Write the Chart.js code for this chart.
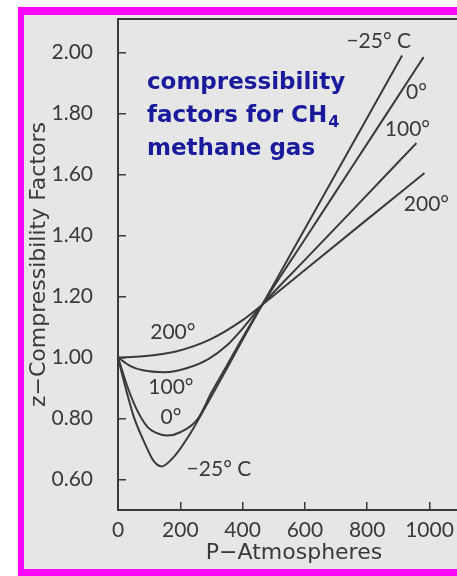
<!DOCTYPE html>
<html>
<head>
<meta charset="utf-8">
<script src="https://cdn.jsdelivr.net/npm/chart.js@4.4.1/dist/chart.umd.min.js"></script>
<style>
  html, body { margin: 0; padding: 0; background: #fff; overflow: hidden; }
  #frame {
    position: absolute; left: 18px; top: 7px; width: 520px; height: 569px; box-sizing: border-box;
    border-left: 6px solid #f0f; border-top: 8px solid #f0f; border-bottom: 7px solid #f0f;
    background: #e6e6e6;
  }
  #chart { position: absolute; left: 24px; top: 15px; }
</style>
</head>
<body>
<div id="frame"></div>
<canvas id="chart" width="460" height="554"></canvas>
<script>
// P (atm) and z, one pair of arrays per temperature
const pM25 = [0, 20, 50, 85, 115, 140, 180, 235, 290, 350, 400, 463, 550, 650, 750, 850, 912];
const zM25 = [1.00, 0.918, 0.808, 0.721, 0.66, 0.643, 0.675, 0.756, 0.855, 0.965, 1.058, 1.173, 1.331, 1.513, 1.695, 1.877, 1.99];

const p0 = [0, 30, 60, 95, 125, 158, 200, 255, 300, 350, 400, 463, 600, 750, 900, 981];
const z0 = [1.00, 0.905, 0.83, 0.772, 0.752, 0.744, 0.755, 0.797, 0.885, 0.975, 1.065, 1.173, 1.388, 1.623, 1.858, 1.985];

const p100 = [0, 40, 80, 150, 220, 290, 350, 400, 463, 600, 750, 958];
const z100 = [1.00, 0.972, 0.958, 0.952, 0.965, 0.995, 1.04, 1.095, 1.173, 1.32, 1.48, 1.703];

const p200 = [0, 80, 186, 293, 399, 463, 600, 800, 984];
const z200 = [1.00, 1.004, 1.02, 1.058, 1.122, 1.173, 1.287, 1.453, 1.605];

const xTicks = [0, 200, 400, 600, 800, 1000];
const yTicks = [0.6, 0.8, 1.0, 1.2, 1.4, 1.6, 1.8, 2.0];

// curve labels: [text, P, z]
const curveLabels = [
  ['\u221225\u00b0 C', 837, 2.036],
  ['0\u00b0', 958, 1.869],
  ['100\u00b0', 929, 1.748],
  ['200\u00b0', 990, 1.503],
  ['200\u00b0', 176, 1.084],
  ['100\u00b0', 170, 0.901],
  ['0\u00b0', 170, 0.803],
  ['\u221225\u00b0 C', 324, 0.633]
];

const ink = '#3a3a3a';
const tickFont = { family: 'Lato', size: 21 };
const titleFont = { family: 'DejaVu Sans', size: 22 };

function pts(px, pz) {
  return px.map((p, i) => ({ x: p, y: pz[i] }));
}

function curve(label, px, pz) {
  return {
    label: label,
    data: pts(px, pz),
    borderColor: ink,
    borderWidth: 2,
    pointRadius: 0,
    fill: false,
    cubicInterpolationMode: 'monotone'
  };
}

const decorations = {
  id: 'decorations',
  afterDraw(chart) {
    const { ctx, chartArea, scales } = chart;
    const x = scales.x, y = scales.y;
    ctx.save();
    // top border of the plot box
    ctx.strokeStyle = ink;
    ctx.lineWidth = 2;
    ctx.beginPath();
    ctx.moveTo(chartArea.left, chartArea.top);
    ctx.lineTo(chart.width, chartArea.top);
    ctx.stroke();

    // labels on the curves
    ctx.fillStyle = ink;
    ctx.font = '21px Lato';
    ctx.textAlign = 'center';
    ctx.textBaseline = 'middle';
    curveLabels.forEach(([t, p, z]) => {
      ctx.fillText(t, x.getPixelForValue(p), y.getPixelForValue(z));
    });

    // blue note
    ctx.fillStyle = '#1a1a9c';
    ctx.textAlign = 'left';
    ctx.textBaseline = 'alphabetic';
    ctx.font = 'bold 23px "DejaVu Sans"';
    const lx = x.getPixelForValue(93);
    ctx.fillText('compressibility', lx, y.getPixelForValue(1.882));
    const y2 = y.getPixelForValue(1.771);
    ctx.fillText('factors for CH', lx, y2);
    const w = ctx.measureText('factors for CH').width;
    ctx.font = 'bold 16px "DejaVu Sans"';
    ctx.fillText('4', lx + w + 1, y2 + 5);
    ctx.font = 'bold 23px "DejaVu Sans"';
    ctx.fillText('methane gas', lx, y.getPixelForValue(1.663));
    ctx.restore();
  }
};

const ctx = document.getElementById('chart').getContext('2d');
new Chart(ctx, {
  type: 'line',
  data: {
    datasets: [
      curve('-25 C', pM25, zM25),
      curve('0 C', p0, z0),
      curve('100 C', p100, z100),
      curve('200 C', p200, z200)
    ]
  },
  options: {
    responsive: false,
    devicePixelRatio: 1,
    animation: false,
    layout: { padding: { top: 4, right: 14, left: 0, bottom: 0 } },
    plugins: { legend: { display: false }, tooltip: { enabled: false } },
    scales: {
      x: {
        type: 'linear',
        position: 'bottom',
        min: 0,
        max: 1130,
        afterBuildTicks: s => { s.ticks = xTicks.map(v => ({ value: v })); },
        afterFit: s => { s.height = 59; s.paddingLeft = 0; s.paddingRight = 0; },
        ticks: { font: tickFont, color: ink, padding: 16, maxRotation: 0, callback: v => String(v) },
        grid: { drawOnChartArea: false, tickLength: -8, color: ink, lineWidth: 1.5 },
        border: { color: ink, width: 2 },
        title: {
          display: true, text: 'P\u2212Atmospheres', color: ink,
          font: titleFont, padding: { top: 0, bottom: 3 }
        }
      },
      y: {
        type: 'linear',
        min: 0.5,
        max: 2.11,
        afterBuildTicks: s => { s.ticks = yTicks.map(v => ({ value: v })); },
        afterFit: s => { s.width = 94; s.paddingTop = 0; s.paddingBottom = 0; },
        ticks: { font: tickFont, color: ink, padding: 33, callback: v => Number(v).toFixed(2) },
        grid: { drawOnChartArea: false, tickLength: -8, color: ink, lineWidth: 1.5 },
        border: { color: ink, width: 2 },
        title: {
          display: true, text: 'z\u2212Compressibility Factors', color: ink,
          font: titleFont, padding: { top: 2, bottom: 0 }
        }
      }
    }
  },
  plugins: [decorations]
});
</script>
</body>
</html>
